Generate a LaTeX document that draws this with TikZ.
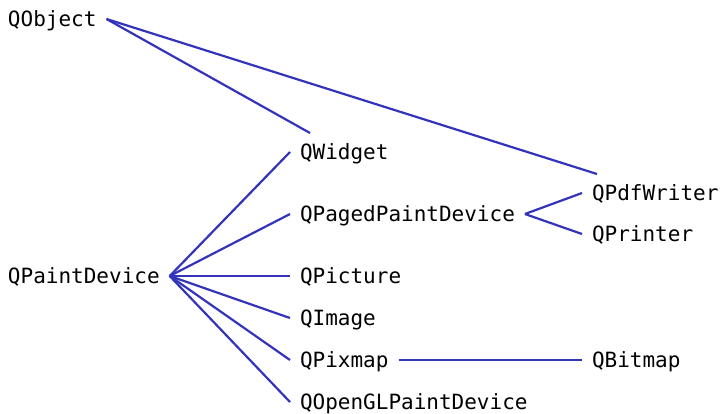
\documentclass[tikz,border=0pt]{standalone}
\usepackage{fontspec}
\setmonofont{DejaVu Sans Mono}
\usepackage{tikz}
\usetikzlibrary{arrows}
\definecolor{linkblue}{RGB}{51,51,187}
\tikzset{
	cls/.style={font=\ttfamily\fontsize{10.5pt}{12pt}\selectfont, inner sep=0pt, outer xsep=5pt, outer ysep=0pt, text height=0.85em, text depth=0.15em, anchor=west},
	link/.style={draw=linkblue, line width=1.1pt}
}

\begin{document}
\begin{tikzpicture}[x=1pt,y=1pt]
	\useasboundingbox (0,0) rectangle (361,-206.5);
	%class names
	\node[cls] (QObject) at (-1,-9.5) {QObject};
	\node[cls] (QPaintDevice) at (-1,-138) {QPaintDevice};
	\node[cls] (QWidget) at (145,-76) {QWidget};
	\node[cls] (QPagedPaintDevice) at (145,-107) {QPagedPaintDevice};
	\node[cls] (QPicture) at (145,-138) {QPicture};
	\node[cls] (QImage) at (145,-159) {QImage};
	\node[cls] (QPixmap) at (145,-180) {QPixmap};
	\node[cls] (QOpenGLPaintDevice) at (145,-201) {QOpenGLPaintDevice};
	\node[cls] (QPdfWriter) at (291,-96.5) {QPdfWriter};
	\node[cls] (QPrinter) at (291,-117) {QPrinter};
	\node[cls] (QBitmap) at (291,-180) {QBitmap};
	%QObject subclasses
	\draw[link] (QObject.east) -- ([xshift=10pt,yshift=9.5pt]QWidget.west);
	\draw[link] (QObject.east) -- ([xshift=7.5pt,yshift=9.5pt]QPdfWriter.west);
	%QPaintDevice subclasses
	\foreach \sub in {QWidget, QPagedPaintDevice, QPicture, QImage, QPixmap, QOpenGLPaintDevice}
		\draw[link] (QPaintDevice.east) -- (\sub.west);
	%QPagedPaintDevice subclasses
	\draw[link] (QPagedPaintDevice.east) -- (QPdfWriter.west);
	\draw[link] (QPagedPaintDevice.east) -- (QPrinter.west);
	%QPixmap subclass
	\draw[link] (QPixmap.east) -- (QBitmap.west);
\end{tikzpicture}
\end{document}
